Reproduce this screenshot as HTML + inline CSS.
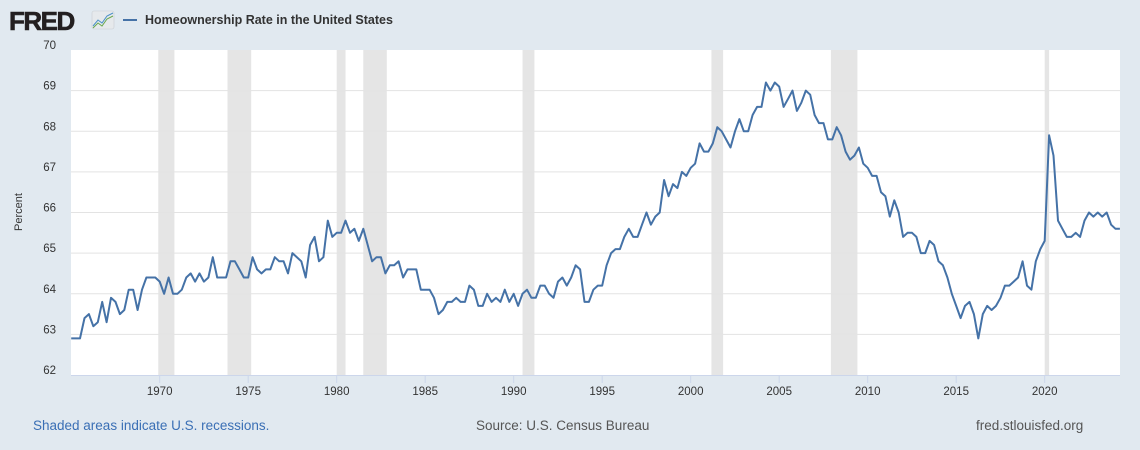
<!DOCTYPE html>
<html><head><meta charset="utf-8"><style>
body{margin:0;width:1140px;height:450px;background:#e1e9f0;font-family:"Liberation Sans",Arial,sans-serif;overflow:hidden}
svg{position:absolute;left:0;top:0}
</style></head><body>
<svg id="s" width="1140" height="450" xmlns="http://www.w3.org/2000/svg">
<text x="9" y="30" font-size="26" font-weight="bold" fill="#231f20" letter-spacing="-1.5" font-family="Liberation Sans,Arial,sans-serif" stroke="#231f20" stroke-width="0.6">FRED</text>
<rect x="92" y="11" width="22" height="18" rx="2" fill="#e6e9ec" stroke="#c9ced3" stroke-width="0.6"/>
<polyline points="93,26 98,20 102,23 107,16 113,13" fill="none" stroke="#4a90c8" stroke-width="1"/>
<polyline points="93,28 98,23 102,26 107,19 113,16" fill="none" stroke="#6aa84f" stroke-width="1"/>
<line x1="123" y1="20" x2="137" y2="20" stroke="#4572a7" stroke-width="2"/>
<text x="145" y="24" font-size="12.5" font-weight="bold" fill="#333">Homeownership Rate in the United States</text>
<rect x="71" y="50" width="1049" height="325" fill="#fff"/>
<g id="rec"></g><g id="grid"></g>
<text transform="translate(22,212) rotate(-90)" font-size="11" fill="#333" text-anchor="middle">Percent</text>
<text x="33" y="430" font-size="13.5" fill="#3a6fb5">Shaded areas indicate U.S. recessions.</text>
<text x="476" y="430" font-size="13.5" fill="#555">Source: U.S. Census Bureau</text>
<text x="976" y="430" font-size="13.5" fill="#555">fred.stlouisfed.org</text>
<path id="p" fill="none" stroke="#4572a7" stroke-width="2" stroke-linejoin="round"/>
</svg>
<script>
var d=[62.9,62.9,62.9,63.4,63.5,63.2,63.3,63.8,63.3,63.9,63.8,63.5,63.6,64.1,64.1,63.6,64.1,64.4,64.4,64.4,64.3,64.0,64.4,64.0,64.0,64.1,64.4,64.5,64.3,64.5,64.3,64.4,64.9,64.4,64.4,64.4,64.8,64.8,64.6,64.4,64.4,64.9,64.6,64.5,64.6,64.6,64.9,64.8,64.8,64.5,65.0,64.9,64.8,64.4,65.2,65.4,64.8,64.9,65.8,65.4,65.5,65.5,65.8,65.5,65.6,65.3,65.6,65.2,64.8,64.9,64.9,64.5,64.7,64.7,64.8,64.4,64.6,64.6,64.6,64.1,64.1,64.1,63.9,63.5,63.6,63.8,63.8,63.9,63.8,63.8,64.2,64.1,63.7,63.7,64.0,63.8,63.9,63.8,64.1,63.8,64.0,63.7,64.0,64.1,63.9,63.9,64.2,64.2,64.0,63.9,64.3,64.4,64.2,64.4,64.7,64.6,63.8,63.8,64.1,64.2,64.2,64.7,65.0,65.1,65.1,65.4,65.6,65.4,65.4,65.7,66.0,65.7,65.9,66.0,66.8,66.4,66.7,66.6,67.0,66.9,67.1,67.2,67.7,67.5,67.5,67.7,68.1,68.0,67.8,67.6,68.0,68.3,68.0,68.0,68.4,68.6,68.6,69.2,69.0,69.2,69.1,68.6,68.8,69.0,68.5,68.7,69.0,68.9,68.4,68.2,68.2,67.8,67.8,68.1,67.9,67.5,67.3,67.4,67.6,67.2,67.1,66.9,66.9,66.5,66.4,65.9,66.3,66.0,65.4,65.5,65.5,65.4,65.0,65.0,65.3,65.2,64.8,64.7,64.4,64.0,63.7,63.4,63.7,63.8,63.5,62.9,63.5,63.7,63.6,63.7,63.9,64.2,64.2,64.3,64.4,64.8,64.2,64.1,64.8,65.1,65.3,67.9,67.4,65.8,65.6,65.4,65.4,65.5,65.4,65.8,66.0,65.9,66.0,65.9,66.0,65.7,65.6,65.6];
function X(t){return 71.2+(t-1965)*17.7}
function Y(v){return 375-(v-62)*40.625}
var ns="http://www.w3.org/2000/svg";
function el(p,tag,a,txt){var e=document.createElementNS(ns,tag);for(var k in a)e.setAttribute(k,a[k]);if(txt)e.textContent=txt;document.getElementById(p).appendChild(e);}
[[1969.92,1970.83],[1973.83,1975.17],[1980.0,1980.5],[1981.5,1982.83],[1990.5,1991.17],[2001.17,2001.83],[2007.92,2009.42],[2020.0,2020.25]].forEach(function(r){el("rec","rect",{x:X(r[0]),y:50,width:X(r[1])-X(r[0]),height:325,fill:"#e5e5e5"})});
for(var v=62;v<=70;v++){var y=Y(v);if(v>62&&v<70)el("grid","line",{x1:71,x2:1120,y1:y,y2:y,stroke:"#e3e3e3","stroke-width":1});el("grid","text",{x:56,y:y-1,"font-size":"11.5","fill":"#333","text-anchor":"end"},String(v));}
el("grid","line",{x1:71,x2:1120,y1:375.5,y2:375.5,stroke:"#ccd6eb","stroke-width":1});
for(var yr=1970;yr<=2020;yr+=5){var x=X(yr);el("grid","line",{x1:x,x2:x,y1:375,y2:383,stroke:"#ccd6eb"});el("grid","text",{x:x,y:395,"font-size":"11.5","fill":"#333","text-anchor":"middle"},String(yr));}
var s="";d.forEach(function(v,i){s+=(i?"L":"M")+X(1965+i/4).toFixed(1)+","+Y(v).toFixed(1)});
document.getElementById("p").setAttribute("d",s);
</script>
</body></html>
